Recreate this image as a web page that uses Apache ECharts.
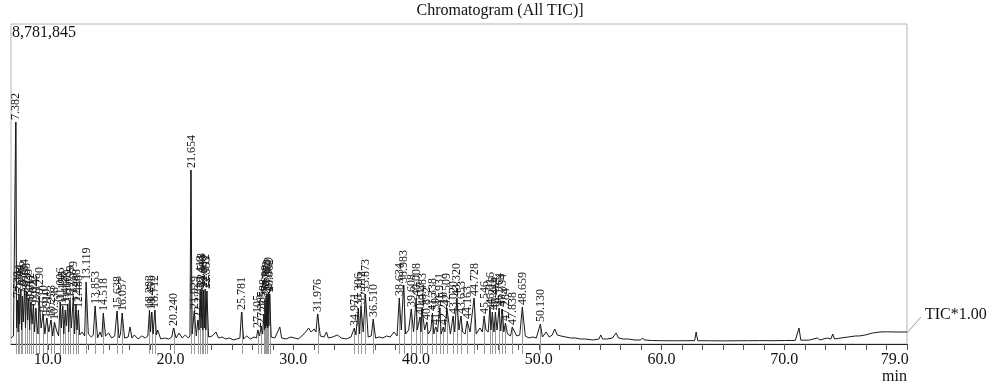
<!DOCTYPE html>
<html><head><meta charset="utf-8">
<script src="https://cdn.jsdelivr.net/npm/echarts@6/dist/echarts.min.js"></script>
<style>html,body{margin:0;padding:0;background:#fff}#c{width:994px;height:390px}</style>
</head><body><div id="c"></div>
<script>
const titleText = 'Chromatogram (All TIC)]';
const scaleText = 'TIC*1.00';
const unitText = 'min';
const maxIntensity = 8781845;
const tickLabelValues = [10, 20, 30, 40, 50, 60, 70, 79];
const minorTickValues = [8.33, 10, 11.67, 13.33, 15, 16.67, 18.33, 20, 21.67, 23.33, 25, 26.67, 28.33, 30, 31.67, 33.33, 35, 36.67, 38.33, 40, 41.67, 43.33, 45, 46.67, 48.33, 50, 51.67, 53.33, 55, 56.67, 58.33, 60, 61.67, 63.33, 65, 66.67, 68.33, 70, 71.67, 73.33, 75, 76.67, 78.33, 80];

// background trace (retention time min, intensity counts)
const baseline = [[7.00,165000],[7.20,220000],[7.45,439000],[7.58,329000],[7.70,549000],[7.86,384000],[8.00,604000],[8.18,439000],[8.36,659000],[8.52,384000],[8.72,549000],[8.92,329000],[9.12,494000],[9.20,274000],[9.45,439000],[9.76,274000],[10.08,329000],[10.40,220000],[10.70,384000],[10.88,220000],[11.10,439000],[11.30,274000],[11.52,494000],[11.70,329000],[11.92,439000],[12.18,274000],[12.38,384000],[12.60,247000],[12.80,329000],[13.00,220000],[13.30,274000],[13.55,192000],[13.70,247000],[14.05,165000],[14.25,329000],[14.40,192000],[14.70,220000],[14.95,302000],[15.20,165000],[15.45,220000],[15.80,165000],[15.92,274000],[16.25,165000],[16.55,192000],[16.70,467000],[16.85,165000],[17.05,247000],[17.35,137000],[17.65,220000],[17.95,165000],[18.15,220000],[18.37,329000],[18.58,274000],[18.85,247000],[18.95,384000],[19.20,137000],[19.55,165000],[19.85,137000],[20.10,192000],[20.45,165000],[20.70,302000],[20.95,165000],[21.20,247000],[21.45,165000],[21.58,220000],[21.76,274000],[22.10,220000],[22.32,384000],[22.48,439000],[22.62,384000],[22.75,439000],[22.88,384000],[23.10,192000],[23.40,220000],[23.70,329000],[23.90,165000],[24.20,192000],[24.50,137000],[24.80,165000],[25.10,110000],[25.40,137000],[25.65,165000],[25.95,137000],[26.20,220000],[26.50,137000],[26.80,192000],[27.00,165000],[27.25,220000],[27.50,274000],[27.65,384000],[27.74,439000],[27.83,494000],[27.92,439000],[28.01,494000],[28.20,192000],[28.50,165000],[28.90,467000],[29.05,165000],[29.40,137000],[29.80,192000],[30.10,165000],[30.40,137000],[30.70,220000],[31.00,329000],[31.25,439000],[31.45,329000],[31.70,412000],[31.85,329000],[32.20,220000],[32.50,192000],[32.70,329000],[32.85,165000],[33.20,192000],[33.60,247000],[33.90,165000],[34.30,137000],[34.70,192000],[35.10,247000],[35.40,274000],[35.70,329000],[36.10,192000],[36.35,220000],[36.70,165000],[37.00,192000],[37.30,165000],[37.60,220000],[37.90,192000],[38.20,329000],[38.45,220000],[38.80,384000],[39.15,274000],[39.40,384000],[39.80,329000],[40.10,384000],[40.40,329000],[40.70,384000],[41.00,274000],[41.20,384000],[41.45,274000],[41.75,329000],[42.05,274000],[42.35,329000],[42.80,274000],[43.15,329000],[43.50,384000],[43.80,329000],[44.00,274000],[44.40,329000],[44.90,274000],[45.20,439000],[45.40,329000],[45.70,384000],[45.88,329000],[46.10,384000],[46.35,329000],[46.60,384000],[46.90,357000],[47.15,329000],[47.45,274000],[47.70,220000],[48.20,220000],[48.45,247000],[48.90,220000],[49.20,165000],[49.50,192000],[49.80,165000],[50.30,192000],[50.60,329000],[50.85,192000],[51.10,247000],[51.30,412000],[51.50,247000],[51.80,220000],[52.20,192000],[52.60,165000],[53.00,165000],[53.40,137000],[53.80,137000],[54.40,110000],[54.90,137000],[55.05,247000],[55.20,137000],[55.60,137000],[56.00,165000],[56.30,302000],[56.50,165000],[56.90,137000],[57.30,137000],[57.80,110000],[58.30,110000],[58.45,165000],[58.60,110000],[59.20,96000],[60.00,90000],[61.00,88000],[62.00,90000],[62.70,92000],[62.82,329000],[62.95,90000],[64.00,88000],[65.00,85000],[66.00,88000],[67.00,90000],[68.00,92000],[69.00,90000],[70.00,95000],[70.90,98000],[71.20,439000],[71.35,105000],[72.00,105000],[72.70,165000],[72.90,110000],[73.50,165000],[73.80,137000],[73.95,274000],[74.10,137000],[74.60,165000],[75.20,192000],[75.80,220000],[75.95,274000],[76.10,220000],[76.60,247000],[77.20,302000],[77.80,329000],[78.40,335000],[79.00,329000],[80.00,329000]];

// labelled peaks
const peakTimes = [7.382,7.530,7.644,7.786,7.935,8.104,8.268,8.433,8.612,8.822,9.014,9.290,9.610,9.910,10.253,10.538,11.006,11.198,11.417,11.609,11.799,12.079,12.288,12.488,13.119,13.853,14.518,15.638,16.057,18.283,18.451,18.712,20.240,21.654,21.929,22.226,22.413,22.548,22.680,22.812,22.953,25.781,27.105,27.385,27.598,27.690,27.782,27.870,27.960,28.062,31.976,34.971,35.306,35.512,35.873,36.510,38.634,38.983,39.608,40.008,40.317,40.483,40.872,41.338,41.592,41.931,42.218,42.509,43.020,43.320,43.653,44.163,44.728,45.546,46.016,46.216,46.464,46.764,47.034,47.284,47.838,48.659,50.130];
const peakHeights = [6092000,1207000,1372000,1482000,1317000,1537000,1427000,1262000,1153000,1098000,988000,1317000,823000,714000,659000,604000,1153000,1043000,933000,1098000,1207000,1317000,1098000,933000,1701000,1043000,851000,906000,851000,933000,878000,933000,439000,4775000,906000,659000,1482000,1537000,1482000,1509000,1454000,878000,384000,494000,823000,1207000,1317000,1372000,1427000,1372000,823000,439000,988000,1043000,1372000,686000,1262000,1619000,961000,1262000,741000,988000,604000,851000,467000,988000,467000,988000,768000,1262000,768000,631000,1262000,768000,1015000,878000,878000,988000,961000,576000,467000,1015000,549000];

const FONT = '"Liberation Serif", "Times New Roman", serif';
const peakData = peakTimes.map((t, i) => [t, peakHeights[i]]);
const trace = baseline.concat(peakData).sort((a, b) => a[0] - b[0]);

const chart = echarts.init(document.getElementById('c'), null, {renderer: 'canvas', width: 994, height: 390});
chart.setOption({
  animation: false,
  backgroundColor: '#fff',
  grid: {left: 11, right: 87, top: 24, bottom: 46, show: true, borderColor: '#b4b4b4', borderWidth: 1},
  xAxis: {
    type: 'value', min: 7, max: 80,
    axisLine: {show: true, onZero: false, lineStyle: {color: '#222', width: 1}},
    axisTick: {show: true, customValues: minorTickValues, length: 6, lineStyle: {color: '#555'}},
    axisLabel: {customValues: tickLabelValues, formatter: v => v.toFixed(1), fontFamily: FONT, fontSize: 16, color: '#111', margin: 8},
    splitLine: {show: false}
  },
  yAxis: {type: 'value', min: 0, max: maxIntensity, show: false},
  graphic: [
    {type: 'text', x: 500, y: 3, style: {text: titleText, fontFamily: FONT, fontSize: 16, fill: '#111', align: 'center', verticalAlign: 'top'}},
    {type: 'text', x: 12, y: 25, style: {text: maxIntensity.toLocaleString('en-US'), fontFamily: FONT, fontSize: 16, fill: '#111', align: 'left', verticalAlign: 'top'}},
    {type: 'text', x: 925, y: 307, style: {text: scaleText, fontFamily: FONT, fontSize: 16, fill: '#111', align: 'left', verticalAlign: 'top'}},
    {type: 'line', shape: {x1: 907, y1: 333, x2: 921, y2: 317}, style: {stroke: '#999', lineWidth: 1}},
    {type: 'text', x: 907, y: 369, style: {text: unitText, fontFamily: FONT, fontSize: 16, fill: '#111', align: 'right', verticalAlign: 'top'}}
  ],
  series: [
    {
      type: 'custom', clip: false, silent: true, z: 1,
      data: peakData,
      renderItem: function (params, api) {
        const t = api.value(0), v = api.value(1);
        const p = api.coord([t, v]);
        const b = api.coord([t, 0]);
        return {
          type: 'group',
          children: [
            {type: 'line', shape: {x1: Math.round(b[0]) + 0.5, y1: b[1] + 10, x2: Math.round(p[0]) + 0.5, y2: p[1]}, style: {stroke: '#9a9a9a', lineWidth: 1}},
            {type: 'text', x: p[0] + 0.5, y: p[1] - 2, rotation: Math.PI / 2,
             style: {text: peakTimes[params.dataIndex].toFixed(3), fontFamily: FONT, fontSize: 12, fill: '#1a1a1a', align: 'left', verticalAlign: 'middle'}}
          ]
        };
      }
    },
    {
      type: 'line', data: trace, showSymbol: false, symbol: 'none', silent: true, z: 2,
      lineStyle: {color: '#1a1a1a', width: 1}
    }
  ]
});
</script></body></html>
